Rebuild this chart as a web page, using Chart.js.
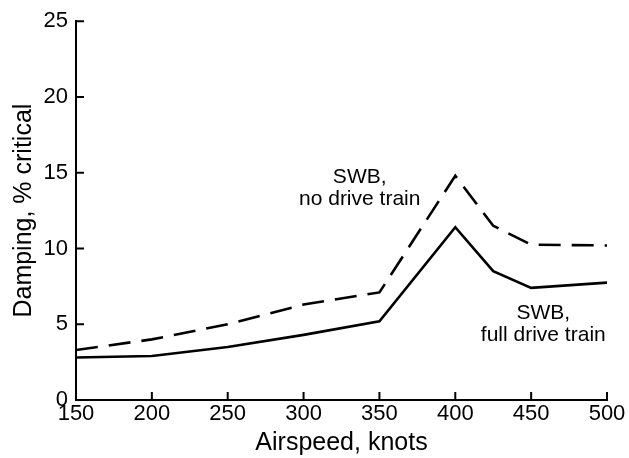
<!DOCTYPE html>
<html>
<head>
<meta charset="utf-8">
<script src="https://cdn.jsdelivr.net/npm/chart.js@4/dist/chart.umd.min.js"></script>
<style>
  html, body { margin: 0; padding: 0; background: #fff; }
  #wrap { width: 629px; height: 458px; position: relative; }
</style>
</head>
<body>
<div id="wrap"><canvas id="grafico"></canvas></div>
<script>
// Dados
const airspeed = [150, 200, 250, 300, 350, 400, 425, 450, 500];
const noDriveTrain = [3.3, 4.0, 5.0, 6.3, 7.1, 14.8, 11.5, 10.25, 10.2];
const fullDriveTrain = [2.8, 2.9, 3.5, 4.3, 5.2, 11.4, 8.5, 7.4, 7.75];
const xTicks = [150, 200, 250, 300, 350, 400, 450, 500];
const yTicks = [0, 5, 10, 15, 20, 25];

const fonte = '"Liberation Sans", Arial, Helvetica, sans-serif';

// Rótulos das curvas (posição em unidades dos eixos)
const rotulos = [
  { x: 337, y: 14.7, linhas: ['SWB,', 'no drive train'] },
  { x: 458, y: 5.7, linhas: ['SWB,', 'full drive train'] }
];

// Marcas dos eixos para dentro + textos das curvas
const marcasPlugin = {
  id: 'marcas',
  afterDraw(chart) {
    const { ctx, scales: { x, y } } = chart;
    ctx.save();
    ctx.strokeStyle = '#000';
    ctx.lineWidth = 2;
    ctx.beginPath();
    xTicks.forEach(v => {
      const px = x.getPixelForValue(v);
      ctx.moveTo(px, y.bottom);
      ctx.lineTo(px, y.bottom - 8);
    });
    yTicks.forEach(v => {
      const py = y.getPixelForValue(v);
      ctx.moveTo(x.left, py);
      ctx.lineTo(x.left + 8, py);
    });
    ctx.stroke();

    ctx.fillStyle = '#000';
    ctx.font = '21px ' + fonte;
    ctx.textAlign = 'center';
    ctx.textBaseline = 'middle';
    rotulos.forEach(r => {
      const px = x.getPixelForValue(r.x);
      const py = y.getPixelForValue(r.y);
      r.linhas.forEach((t, i) => ctx.fillText(t, px, py + i * 21.5));
    });
    ctx.restore();
  }
};

new Chart(document.getElementById('grafico'), {
  type: 'line',
  data: {
    labels: airspeed,
    datasets: [
      {
        label: 'SWB, no drive train',
        data: airspeed.map((v, i) => ({ x: v, y: noDriveTrain[i] })),
        borderColor: '#000',
        borderWidth: 2.6,
        borderDash: [22, 11],
        pointRadius: 0,
        tension: 0,
        fill: false
      },
      {
        label: 'SWB, full drive train',
        data: airspeed.map((v, i) => ({ x: v, y: fullDriveTrain[i] })),
        borderColor: '#000',
        borderWidth: 2.6,
        pointRadius: 0,
        tension: 0,
        fill: false
      }
    ]
  },
  options: {
    responsive: true,
    maintainAspectRatio: false,
    animation: false,
    layout: { padding: { top: 21, right: 22, left: 0, bottom: 0 } },
    plugins: {
      legend: { display: false },
      tooltip: { enabled: false }
    },
    scales: {
      x: {
        type: 'linear',
        min: 150,
        max: 500,
        afterBuildTicks: s => { s.ticks = xTicks.map(v => ({ value: v })); },
        afterFit: s => { s.height = 58; },
        grid: { display: false, drawTicks: false },
        border: { display: true, color: '#000', width: 2 },
        ticks: { color: '#000', padding: 1, font: { family: fonte, size: 22 }, maxRotation: 0 },
        title: {
          display: true,
          text: 'Airspeed, knots',
          color: '#000',
          padding: { top: 0, bottom: 0 },
          font: { family: fonte, size: 25 }
        }
      },
      y: {
        min: 0,
        max: 25,
        afterBuildTicks: s => { s.ticks = yTicks.map(v => ({ value: v })); },
        afterFit: s => { s.width = 76; },
        grid: { display: false, drawTicks: false },
        border: { display: true, color: '#000', width: 2 },
        ticks: { color: '#000', padding: 8, font: { family: fonte, size: 22 } },
        title: {
          display: true,
          text: 'Damping, % critical',
          color: '#000',
          padding: { top: 9, bottom: 0 },
          font: { family: fonte, size: 25 }
        }
      }
    }
  },
  plugins: [marcasPlugin]
});
</script>
</body>
</html>
